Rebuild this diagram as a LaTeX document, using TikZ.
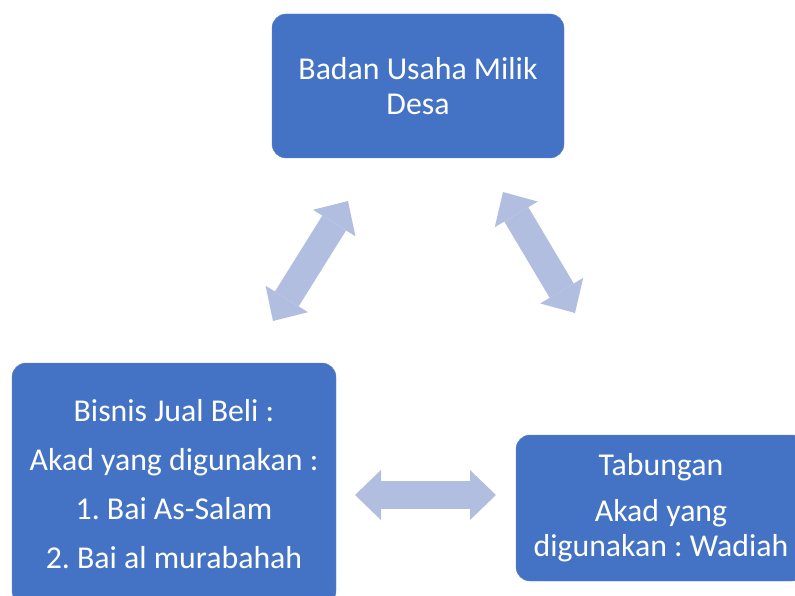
\documentclass[tikz,border=0pt]{standalone}
\usepackage{fontspec}
\setmainfont{Carlito}
\usetikzlibrary{arrows.meta}
\definecolor{boxblue}{HTML}{4472C4}
\definecolor{arrowblue}{HTML}{B1BEE0}
\tikzstyle{unit} = [rectangle, rounded corners=14pt, fill=boxblue, draw=boxblue!85!white, text=white, align=center, inner sep=0pt, font=\fontsize{31.8}{35}\selectfont\frenchspacing]
\tikzstyle{biarrow} = [arrowblue, line width=28pt, {Triangle[length=26pt,width=50pt,line width=0pt]}-{Triangle[length=26pt,width=50pt,line width=0pt]}]

\begin{document}
\begin{tikzpicture}[x=1pt, y=-1pt]
\useasboundingbox (0,0) rectangle (795,596);
\clip (0,0) rectangle (795,596);
\node (bumdes) [unit, minimum width=292pt, minimum height=144pt] at (418,86) {Badan Usaha Milik\\Desa};
\node (jualbeli) [unit, minimum width=324pt, minimum height=242pt] at (174,484) {Bisnis Jual Beli :\\[14pt]Akad yang digunakan :\\[14pt]1. Bai As-Salam\\[14pt]2. Bai al murabahah};
\node (tabungan) [unit, minimum width=290pt, minimum height=146pt] at (661,508) {Tabungan\\[11pt]Akad yang\\digunakan : Wadiah};

% ends of the block arrows
\coordinate (ul) at (273,321);
\coordinate (ur) at (348,201);
\coordinate (vl) at (503,192);
\coordinate (vr) at (575,313);
\coordinate (hl) at (355,495);
\coordinate (hr) at (496,495);

\draw [biarrow] (ul) -- (ur);
\draw [biarrow] (vl) -- (vr);
\draw [biarrow] (hl) -- (hr);
\end{tikzpicture}
\end{document}
